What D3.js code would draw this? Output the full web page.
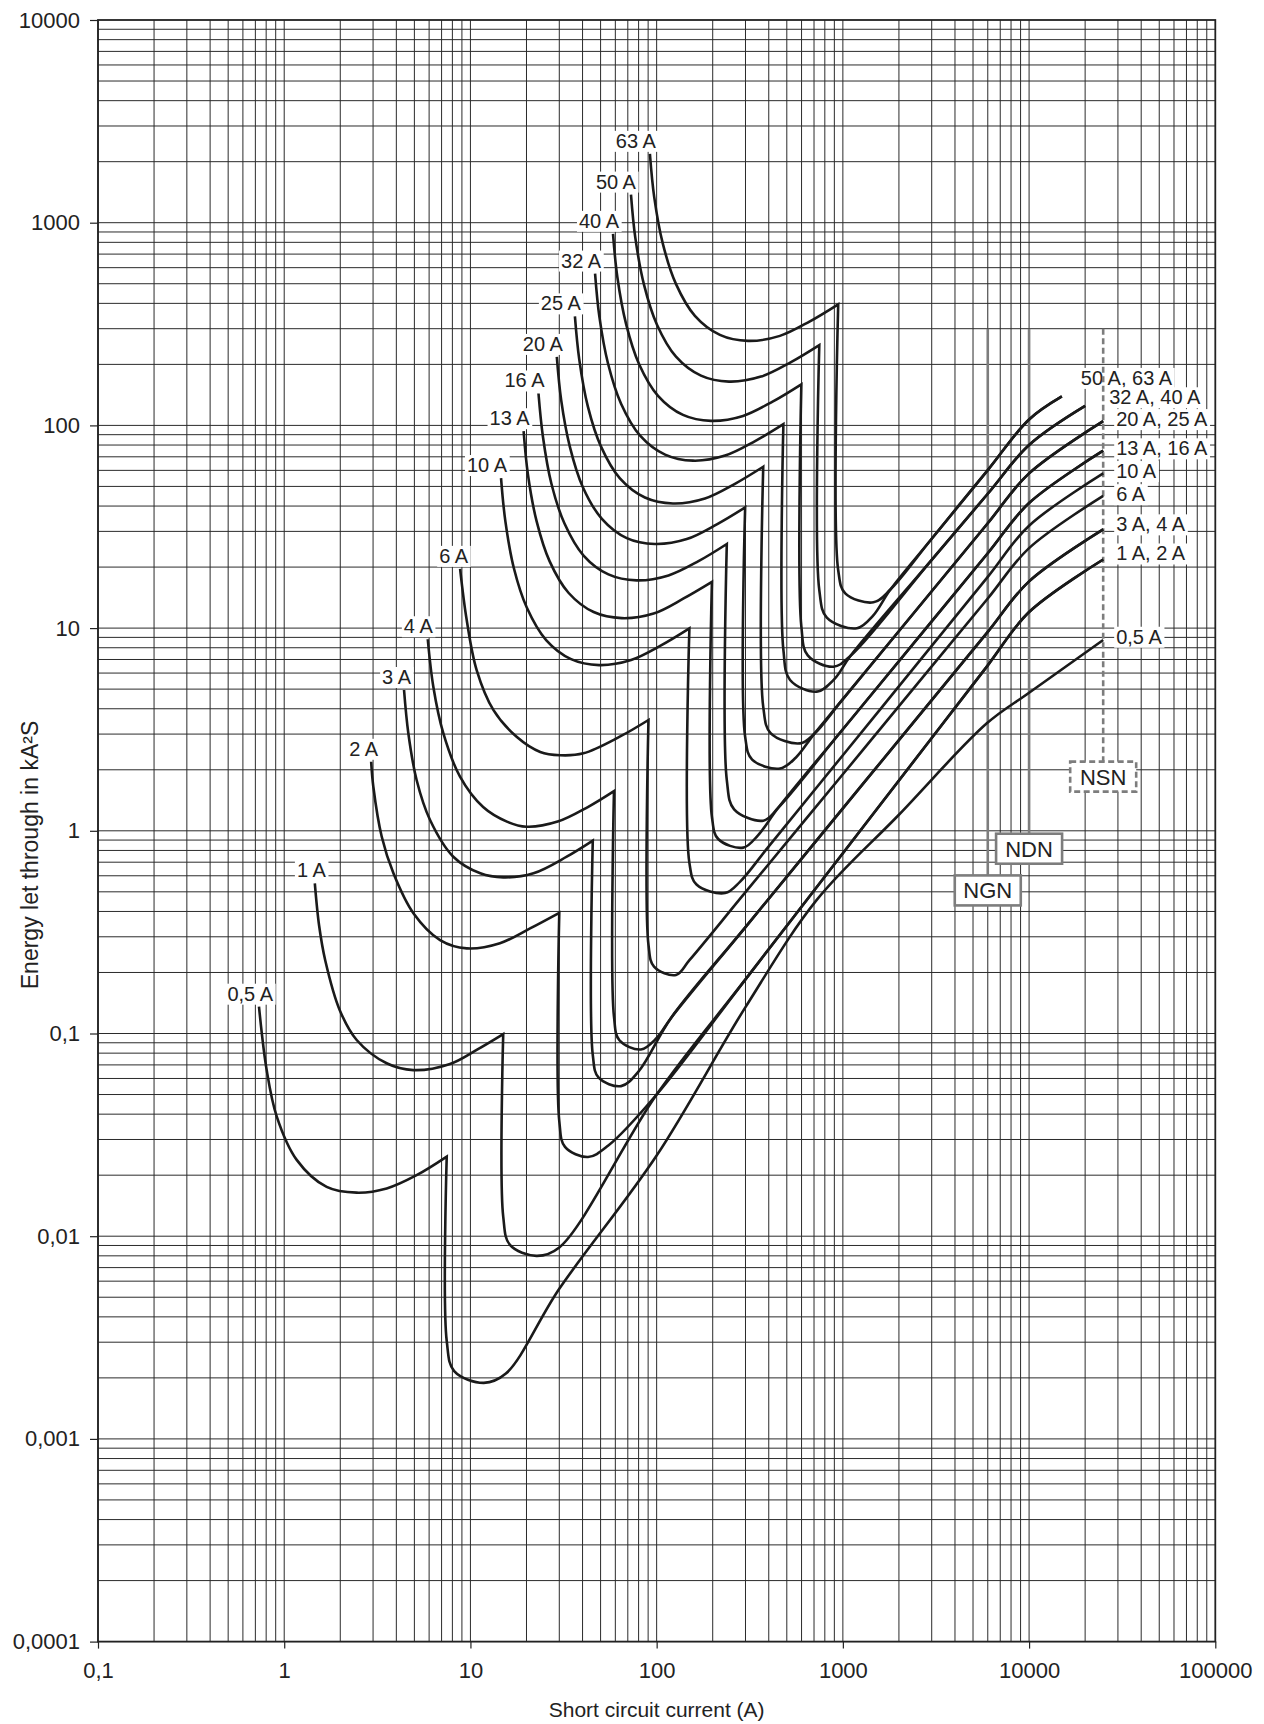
<!DOCTYPE html>
<html>
<head>
<meta charset="utf-8">
<script src="https://cdn.jsdelivr.net/npm/d3@7"></script>
<style>
  body { margin: 0; background: #fff; }
  svg text { font-family: "Liberation Sans", Arial, Helvetica, sans-serif; fill: #222; }
</style>
</head>
<body>
<svg id="chart" width="1264" height="1724"></svg>
<script>
// ---- Axis ticks ----
const xTickValues = [0.1, 1, 10, 100, 1000, 10000, 100000];
const xTickLabels = ["0,1", "1", "10", "100", "1000", "10000", "100000"];
const yTickValues = [0.0001, 0.001, 0.01, 0.1, 1, 10, 100, 1000, 10000];
const yTickLabels = ["0,0001", "0,001", "0,01", "0,1", "1", "10", "100", "1000", "10000"];

// ---- Ratings ----
const ratings = ["0,5 A", "1 A", "2 A", "3 A", "4 A", "6 A", "10 A", "13 A", "16 A", "20 A", "25 A", "32 A", "40 A", "50 A", "63 A"];

// Overload branch: [current A, energy kA²s] from start down to the peak
const overload05 = [[0.732,0.1356],[0.805,0.066],[0.912,0.0389],[1.167,0.0238],[1.69,0.0175],[2.45,0.0164],[3.55,0.0172],[5.14,0.02],[7.46,0.0247]];
const overload1  = [[1.46,0.551],[1.54,0.34],[1.66,0.23],[1.99,0.13],[2.45,0.0929],[3.55,0.0713],[4.94,0.066],[7.77,0.0708],[10.8,0.083],[15.0,0.0993]];
const overload2  = [[2.93,2.19],[3.01,1.65],[3.34,0.935],[3.86,0.617],[4.94,0.392],[6.87,0.289],[9.55,0.263],[14.4,0.279],[20.9,0.33],[30,0.394]];
const overload3  = [[4.4,4.95],[4.64,3.03],[5.14,1.78],[6.07,1.13],[8.09,0.745],[11.3,0.617],[15,0.589],[21.8,0.617],[32.9,0.745],[45.4,0.894]];
const overload4  = [[5.9,8.81],[6.32,5.14],[7.15,3.03],[8.79,1.85],[11.7,1.31],[15.7,1.11],[20,1.047],[29.4,1.11],[42.7,1.31],[59,1.57]];
const overload6  = [[8.8,19.6],[9.55,10.96],[10.8,6.21],[13.3,3.94],[17.7,2.91],[23.7,2.45],[30.3,2.36],[40.4,2.41],[63.7,2.92],[90.4,3.52]];
const overload10 = [[14.6,55],[15.4,33.7],[17.1,19.8],[20.1,12.6],[25.5,8.73],[34.7,7.03],[49.1,6.57],[72.9,6.96],[105.6,8.21],[149.9,9.96]];
const overload13 = [[19.3,93.6],[20.35,57.4],[22.66,33.7],[26.6,21.4],[33.7,14.9],[45.9,12.0],[64.9,11.2],[96.3,11.8],[139.6,14.0],[198.1,16.9]];
const overload16 = [[23.2,143.7],[24.5,88.2],[27.2,51.7],[32.0,32.8],[40.5,22.8],[55.1,18.4],[78.0,17.2],[115.8,18.2],[167.8,21.4],[238.1,26.0]];
const overload20 = [[29.1,217.7],[30.7,133.6],[34.2,78.3],[40.1,49.7],[50.8,34.6],[69.1,27.8],[97.8,26.0],[145.2,27.5],[210.5,32.5],[298.7,39.4]];
const overload25 = [[36.4,345],[38.4,211.7],[42.7,124.1],[50.2,78.8],[63.5,54.8],[86.5,44.1],[122.3,41.2],[181.7,43.6],[263.3,51.5],[373.6,62.5]];
const overload32 = [[46.7,561],[49.25,344],[54.8,202],[64.4,128],[81.5,89.1],[111,71.8],[156.9,67.0],[233.1,71.0],[337.8,83.7],[479.3,101.5]];
const overload40 = [[58.3,881],[61.5,540],[68.5,317],[80.4,201],[101.7,140],[138.5,112.7],[195.9,105.3],[291,111.4],[421.7,131.4],[598.4,159.5]];
const overload50 = [[72.8,1376],[76.8,844],[85.5,495],[100.4,314],[127,218.5],[173,176],[244.6,164.4],[363.3,174.1],[526.6,205.3],[747.2,249.1]];
const overload63 = [[92,2186],[97,1341],[108,786],[126.9,499],[160.5,347],[218.6,279.6],[309.1,261.2],[459.2,276.5],[665.5,326.2],[944,395.7]];

// Current-limiting branch: from the peak straight down, round the bottom, then up to the end
const limiting05 = [[7.46,0.0247],[7.46,0.00304],[8.18,0.00216],[11.8,0.00189],[15.5,0.0021],[30,0.0055],[100,0.025],[300,0.135],[724,0.456],[2000,1.2],[5930,3.39],[10000,4.8],[25000,8.73]];
const limiting1  = [[15.0,0.0993],[15.0,0.0125],[16.3,0.00906],[22.6,0.008],[30,0.0088],[100,0.05],[300,0.185],[1000,0.775],[3000,2.87],[6000,6.55],[10000,12],[25000,21.8]];
const limiting2  = [[30,0.394],[30,0.037],[32.2,0.0276],[42.8,0.0246],[55,0.028],[100,0.05],[300,0.185],[1000,0.775],[3000,2.87],[6000,6.55],[10000,12],[25000,21.8]];
const limiting3  = [[45.4,0.894],[45.4,0.0783],[48.7,0.0607],[64.4,0.055],[80,0.065],[120,0.12],[300,0.335],[1000,1.29],[3000,4.41],[6000,9.58],[10000,17],[25000,30.7]];
const limiting4  = [[59,1.57],[59,0.121],[63.1,0.0926],[82.3,0.0834],[100,0.095],[120,0.12],[300,0.335],[1000,1.29],[3000,4.41],[6000,9.58],[10000,17],[25000,30.7]];
const limiting6  = [[90.4,3.52],[90.4,0.2735],[96.8,0.214],[127,0.1945],[150,0.23],[300,0.498],[1000,1.9],[3000,6.47],[6000,14.0],[10000,24.8],[25000,44.9]];
const limiting10 = [[149.9,9.96],[149.9,0.695],[163.7,0.543],[233,0.493],[280,0.56],[400,0.838],[1000,2.36],[3000,8.17],[6000,17.9],[10000,32],[25000,58]];
const limiting13 = [[198.1,16.9],[198.1,1.17],[214.1,0.911],[292,0.826],[350,0.95],[450,1.3],[1000,3.17],[3000,10.8],[6000,23.4],[10000,41.4],[25000,75]];
const limiting16 = [[238.1,26.0],[238.1,1.78],[260.6,1.277],[374,1.122],[450,1.3],[1000,3.17],[3000,10.8],[6000,23.4],[10000,41.4],[25000,75]];
const limiting20 = [[298.7,39.4],[298.7,2.91],[325.6,2.246],[460,2.03],[560,2.3],[700,3.0],[1000,4.46],[3000,15.2],[6000,32.9],[10000,58],[25000,105]];
const limiting25 = [[373.6,62.5],[373.6,4.09],[409.2,3.033],[589,2.7],[700,3.0],[1000,4.46],[3000,15.2],[6000,32.9],[10000,58],[25000,105]];
const limiting32 = [[479.3,101.5],[479.3,7.8],[520.5,5.548],[724,4.86],[900,5.6],[1100,7.3],[3000,21.7],[6000,46],[10000,80],[20000,124.7]];
const limiting40 = [[598.4,159.5],[598.4,10.2],[647.8,7.335],[890,6.45],[1100,7.3],[3000,21.7],[6000,46],[10000,80],[20000,124.7]];
const limiting50 = [[747.2,249.1],[747.2,15.4],[819.9,11.27],[1189,9.98],[1450,11.5],[1800,15.5],[3000,27.6],[6000,60.2],[10000,107],[15000,139]];
const limiting63 = [[944,395.7],[944,19.3],[1030,14.84],[1459,13.4],[1800,15.5],[3000,27.6],[6000,60.2],[10000,107],[15000,139]];

// Shared end labels of the limiting branches, with the end point they belong to
const endLabels = ["50 A, 63 A", "32 A, 40 A", "20 A, 25 A", "13 A, 16 A", "10 A", "6 A", "3 A, 4 A", "1 A, 2 A", "0,5 A"];
const endPoints = [[15000,139],[20000,124.7],[25000,105],[25000,75],[25000,58],[25000,44.9],[25000,30.7],[25000,21.8],[25000,8.73]];

// Breaker type limits
const breakerTypes = ["NGN", "NDN", "NSN"];
const breakerCurrents = [6000, 10000, 25000];
const breakerTopEnergy = 300;

// ---- Layout ----
const svg = d3.select("#chart");
const plotL = 98, plotR = 1215.3, plotT = 20, plotB = 1641.6;
const x = d3.scaleLog().domain([0.1, 100000]).range([plotL, plotR]);
const y = d3.scaleLog().domain([0.0001, 10000]).range([plotB, plotT]);

// Log grid: 1..9 in each decade
const gridX = [], gridY = [];
for (let e = -1; e <= 4; e++) for (let k = 1; k <= 9; k++) gridX.push(+(k * Math.pow(10, e)).toPrecision(3));
for (let e = -4; e <= 3; e++) for (let k = 1; k <= 9; k++) gridY.push(+(k * Math.pow(10, e)).toPrecision(3));

const grid = svg.append("g").attr("stroke", "#2b2b2b").attr("stroke-width", 1).attr("fill", "none");
grid.selectAll("line.gx").data(gridX).join("line").attr("class", "gx")
  .attr("x1", d => x(d)).attr("x2", d => x(d)).attr("y1", plotT).attr("y2", plotB);
grid.selectAll("line.gy").data(gridY).join("line").attr("class", "gy")
  .attr("y1", d => y(d)).attr("y2", d => y(d)).attr("x1", plotL).attr("x2", plotR);

svg.append("rect").attr("x", plotL).attr("y", plotT).attr("width", plotR - plotL).attr("height", plotB - plotT)
  .attr("fill", "none").attr("stroke", "#222").attr("stroke-width", 1.8);

// Axes with outer ticks at the decades
const xAxis = d3.axisBottom(x).tickValues(xTickValues).tickSize(7).tickPadding(14)
  .tickFormat((d, i) => xTickLabels[i]);
const yAxis = d3.axisLeft(y).tickValues(yTickValues).tickSize(8).tickPadding(10)
  .tickFormat((d, i) => yTickLabels[i]);
const gxA = svg.append("g").attr("transform", `translate(0,${plotB})`).call(xAxis);
const gyA = svg.append("g").attr("transform", `translate(${plotL},0)`).call(yAxis);
[gxA, gyA].forEach(g => {
  g.select(".domain").remove();
  g.selectAll(".tick line").attr("stroke", "#222").attr("stroke-width", 1.2);
  g.selectAll(".tick text").attr("font-size", 22).attr("fill", "#222")
    .style("font-family", "'Liberation Sans', Arial, sans-serif");
});

// Axis titles
svg.append("text").attr("x", (plotL + plotR) / 2).attr("y", 1717).attr("text-anchor", "middle")
  .attr("font-size", 21).text("Short circuit current (A)");
svg.append("text").attr("transform", "translate(38,855) rotate(-90)").attr("text-anchor", "middle")
  .attr("font-size", 23).text("Energy let through in kA²S");

// Text with a white backing box
function boxedText(g, tx, ty, str, anchor, size) {
  const t = g.append("text").attr("x", tx).attr("y", ty).attr("text-anchor", anchor)
    .attr("font-size", size).text(str);
  const b = t.node().getBBox();
  g.insert("rect", () => t.node()).attr("x", b.x - 2).attr("y", b.y + 1)
    .attr("width", b.width + 4).attr("height", b.height - 1).attr("fill", "#fff");
  return t;
}

const curves = [
  [overload05, limiting05], [overload1, limiting1], [overload2, limiting2], [overload3, limiting3],
  [overload4, limiting4], [overload6, limiting6], [overload10, limiting10], [overload13, limiting13],
  [overload16, limiting16], [overload20, limiting20], [overload25, limiting25], [overload32, limiting32],
  [overload40, limiting40], [overload50, limiting50], [overload63, limiting63]
];
// horizontal nudge of each start label (px)
const startLabelDx = [14, 11, 7, 7, 5, 8, 6, 6, 6, 6, 6, 6, 6, 5, 6];

const labels = svg.append("g");
curves.forEach((c, i) => {
  const s = c[0][0];
  boxedText(labels, x(s[0]) + startLabelDx[i], y(s[1]) - 6, ratings[i], "end", 20);
});

// end labels: pixel offsets from the branch end
const endLabelOffset = [[19, -11.5], [24, -1.7], [13, 5], [13, 4.6], [13, 4.7], [13, 5.3], [13, 2], [13, 1], [13, 3.7]];
endLabels.forEach((s, i) => {
  const p = endPoints[i];
  boxedText(labels, x(p[0]) + endLabelOffset[i][0], y(p[1]) + endLabelOffset[i][1], s, "start", 20);
});

// Breaker type markers
const markers = svg.append("g");
const boxEnergy = [0.508, 0.816, 1.85];
breakerTypes.forEach((name, i) => {
  const cx = x(breakerCurrents[i]);
  const cy = y(boxEnergy[i]);
  const bw = 66, bh = 30;
  const dashed = name === "NSN";
  markers.append("line").attr("x1", cx).attr("x2", cx).attr("y1", y(breakerTopEnergy)).attr("y2", cy - bh / 2)
    .attr("stroke", "#7d7d7d").attr("stroke-width", 2.6).attr("stroke-dasharray", dashed ? "6,3.5" : null);
  markers.append("rect").attr("x", cx - bw / 2).attr("y", cy - bh / 2).attr("width", bw).attr("height", bh)
    .attr("fill", "#fff").attr("stroke", "#7d7d7d").attr("stroke-width", 2.6)
    .attr("stroke-dasharray", dashed ? "6,3.5" : null);
  markers.append("text").attr("x", cx).attr("y", cy + 8).attr("text-anchor", "middle")
    .attr("font-size", 22).text(name);
});

// Curves: sharp corner at the peak, smooth elsewhere
const line = d3.line().x(d => x(d[0])).y(d => y(d[1])).curve(d3.curveCatmullRom.alpha(0.5));
const curveG = svg.append("g").attr("fill", "none").attr("stroke", "#1a1a1a").attr("stroke-width", 2.6)
  .attr("stroke-linejoin", "miter").attr("stroke-linecap", "butt");
curves.forEach(c => {
  const d = line(c[0]) + line(c[1]).replace(/^M/, "L");
  curveG.append("path").attr("d", d);
});
</script>
</body>
</html>
